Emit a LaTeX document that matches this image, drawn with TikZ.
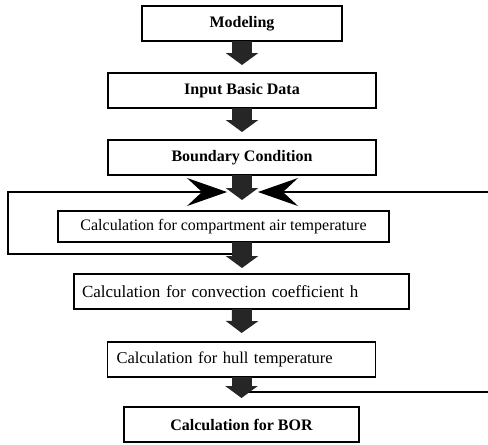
\documentclass[tikz,border=0pt]{standalone}
\usepackage{fontspec}
\setmainfont{Liberation Serif}
\usetikzlibrary{arrows.meta, positioning, calc}

\tikzset{
  topbox/.style={draw, line width=1.5pt, minimum height=35pt, inner sep=0pt, outer sep=0pt,
    font=\fontsize{16}{19}\selectfont\bfseries},
  calcbox/.style={draw, line width=1.5pt, minimum height=35pt, inner ysep=0pt, outer sep=0pt, align=left,
    font=\fontsize{16.5}{19}\selectfont},
  flow/.style={line width=20pt, draw=black!85, -{Triangle[length=12pt, width=32pt]}},
  feedback/.style={line width=1.5pt, -{Stealth[length=40pt, width=28pt, inset=15pt]}}
}

\begin{document}
\begin{tikzpicture}[x=1pt, y=1pt, node distance=32pt]
                                \useasboundingbox (0,0) rectangle (488,-445);
                                % Define the nodes
                                \node[topbox, minimum width=200pt] (md) at (242,-23.5) {Modeling};
                                \node[topbox, minimum width=268pt, below=of md] (ib) {Input Basic Data};
                                \node[topbox, minimum width=268pt, below=of ib] (bc) {Boundary Condition};
                                \node[calcbox, minimum height=31pt, minimum width=331pt, inner xsep=0pt, font=\fontsize{16}{19}\selectfont, below=36pt of bc, xshift=-18.5pt] (ca) {Calculation for compartment air temperature};
                                \node[calcbox, text width=319pt, inner xsep=8pt, font=\fontsize{17}{19}\selectfont, below=of ca, xshift=18pt] (cc) {Calculation for convection coefficient h};
                                \node[calcbox, text width=250pt, inner xsep=9pt, below=33pt of cc] (hl) {Calculation for hull temperature};
                                \node[topbox, minimum width=235pt, below=30pt of hl] (bor) {Calculation for BOR};

                                % Points for the feedback lines
                                \path (bc.south) ++(-15,-17) coordinate (lt);
                                \path (bc.south) ++(16,-17) coordinate (rt);
                                \path (ca.south -| bc.south) ++(0,-12) coordinate (ljoin);
                                \path (hl.south) ++(0,-15) coordinate (hjoin);
                                \coordinate (lx) at (8,0);
                                \coordinate (rx) at (488,0);

                                % Draw the feedback lines
                                \draw[feedback] (ljoin) -- (ljoin -| lx) |- (lt);
                                \draw[feedback] (rt -| rx) -- (rt);
                                \draw[feedback, -] (hjoin) -- (hjoin -| rx);

                                % Draw the edges
                                \draw[flow, shorten >=8pt] (md) -- (ib);
                                \draw[flow, shorten >=8pt] (ib) -- (bc);
                                \draw[flow, shorten >=11pt] (bc.south) -- (bc.south |- ca.north);
                                \draw[flow, shorten >=6pt] (ca.south -| bc.south) -- (cc.north -| bc.south);
                                \draw[flow, shorten >=9pt] (cc.south -| bc.south) -- (hl.north);
                                \draw[flow, shorten >=9pt] (hl.south) -- (hl.south |- bor.north);
                        \end{tikzpicture}
\end{document}
